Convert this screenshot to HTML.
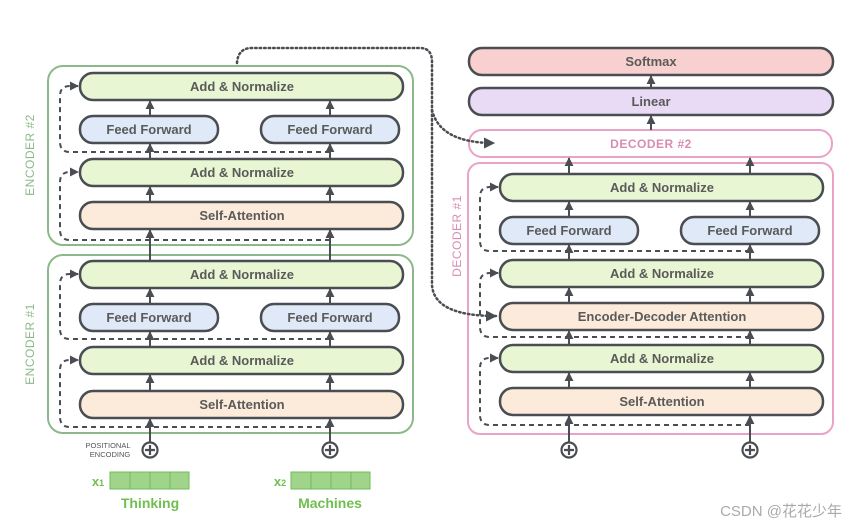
<!DOCTYPE html>
<html><head><meta charset="utf-8"><style>
html,body{margin:0;padding:0;background:#fff;}
svg{display:block;}
text{font-family:"Liberation Sans",sans-serif;}
</style></head><body>
<svg width="858" height="529" viewBox="0 0 858 529" xmlns="http://www.w3.org/2000/svg">
<defs>
<marker id="a" viewBox="0 0 10 10" refX="9" refY="5" markerWidth="4.5" markerHeight="4.5" orient="auto"><path d="M0,0 L10,5 L0,10 z" fill="#4a4d52"/></marker>
</defs>
<g font-size="13" fill="#555" text-anchor="middle">
<rect x="48" y="66" width="365" height="179" rx="15" fill="none" stroke="#8cb98a" stroke-width="2"/>
<rect x="48" y="255" width="365" height="178" rx="15" fill="none" stroke="#8cb98a" stroke-width="2"/>
<text x="34" y="155" transform="rotate(-90 34 155)" fill="#8cb98a" font-size="12" letter-spacing="0.5">ENCODER #2</text>
<text x="34" y="344" transform="rotate(-90 34 344)" fill="#8cb98a" font-size="12" letter-spacing="0.5">ENCODER #1</text>

<g stroke="#4a4d52" stroke-width="2.5">
<rect x="80" y="73" width="323" height="27" rx="13" fill="#e8f6d3"/>
<rect x="80" y="116" width="138" height="27" rx="13" fill="#dfe9f7"/>
<rect x="261" y="116" width="138" height="27" rx="13" fill="#dfe9f7"/>
<rect x="80" y="159" width="323" height="27" rx="13" fill="#e8f6d3"/>
<rect x="80" y="202" width="323" height="27" rx="13" fill="#fcebdb"/>
<rect x="80" y="261" width="323" height="27" rx="13" fill="#e8f6d3"/>
<rect x="80" y="304" width="138" height="27" rx="13" fill="#dfe9f7"/>
<rect x="261" y="304" width="138" height="27" rx="13" fill="#dfe9f7"/>
<rect x="80" y="347" width="323" height="27" rx="13" fill="#e8f6d3"/>
<rect x="80" y="391" width="323" height="27" rx="13" fill="#fcebdb"/>
</g>
<g stroke="none" font-weight="bold" fill="#5a5a5a">
<text x="242" y="91">Add &amp; Normalize</text>
<text x="149" y="134">Feed Forward</text>
<text x="330" y="134">Feed Forward</text>
<text x="242" y="177">Add &amp; Normalize</text>
<text x="242" y="220">Self-Attention</text>
<text x="242" y="279">Add &amp; Normalize</text>
<text x="149" y="322">Feed Forward</text>
<text x="330" y="322">Feed Forward</text>
<text x="242" y="365">Add &amp; Normalize</text>
<text x="242" y="409">Self-Attention</text>
</g>
<g stroke="#4a4d52" stroke-width="2" marker-end="url(#a)" fill="none">
<line x1="150" y1="116" x2="150" y2="101"/><line x1="330" y1="116" x2="330" y2="101"/>
<line x1="150" y1="159" x2="150" y2="144"/><line x1="330" y1="159" x2="330" y2="144"/>
<line x1="150" y1="202" x2="150" y2="187"/><line x1="330" y1="202" x2="330" y2="187"/>
<line x1="150" y1="261" x2="150" y2="230"/><line x1="330" y1="261" x2="330" y2="230"/>
<line x1="150" y1="304" x2="150" y2="289"/><line x1="330" y1="304" x2="330" y2="289"/>
<line x1="150" y1="347" x2="150" y2="332"/><line x1="330" y1="347" x2="330" y2="332"/>
<line x1="150" y1="391" x2="150" y2="375"/><line x1="330" y1="391" x2="330" y2="375"/>
<line x1="150" y1="442" x2="150" y2="419"/><line x1="330" y1="442" x2="330" y2="419"/>
</g>
<g stroke="#4a4d52" stroke-width="2" stroke-dasharray="5,4" fill="none" marker-end="url(#a)">
<path d="M330,152 H70 Q60,152 60,142 V96 Q60,86 70,86 H78"/>
<path d="M330,240 H70 Q60,240 60,230 V182 Q60,172 70,172 H78"/>
<path d="M330,339 H70 Q60,339 60,329 V284 Q60,274 70,274 H78"/>
<path d="M330,427 H70 Q60,427 60,417 V370 Q60,360 70,360 H78"/>
</g>
<g stroke="#4a4d52" stroke-width="2.2" fill="#fff">
<circle cx="150" cy="450" r="7.5"/><circle cx="330" cy="450" r="7.5"/>
<circle cx="569" cy="450" r="7.5"/><circle cx="750" cy="450" r="7.5"/>
<path d="M145,450H155M150,445V455M325,450H335M330,445V455M564,450H574M569,445V455M745,450H755M750,445V455"/>
</g>
<text x="108" y="448" font-size="7.5" fill="#555">POSITIONAL</text>
<text x="110" y="457" font-size="7.5" fill="#555">ENCODING</text>
<g fill="#9fd48a" stroke="#6fbb58" stroke-width="1">
<rect x="110" y="472" width="20" height="17"/><rect x="130" y="472" width="20" height="17"/><rect x="150" y="472" width="20" height="17"/><rect x="170" y="472" width="19" height="17"/>
<rect x="291" y="472" width="20" height="17"/><rect x="311" y="472" width="20" height="17"/><rect x="331" y="472" width="20" height="17"/><rect x="351" y="472" width="19" height="17"/>
</g>
<g fill="#6fbf4f" font-weight="bold">
<text x="98" y="486" font-size="13">x<tspan font-size="9">1</tspan></text>
<text x="280" y="486" font-size="13">x<tspan font-size="9">2</tspan></text>
<text x="150" y="508" font-size="14">Thinking</text>
<text x="330" y="508" font-size="14">Machines</text>
</g>

<rect x="468" y="163" width="365" height="271" rx="12" fill="none" stroke="#eaa3c8" stroke-width="2"/>
<text x="461" y="236" transform="rotate(-90 461 236)" fill="#d98cb3" font-size="12" letter-spacing="0.5">DECODER #1</text>
<rect x="469" y="130" width="363" height="27" rx="13" fill="#fff" stroke="#eaa3c8" stroke-width="2"/>
<text x="651" y="148" fill="#d98cb3" font-size="12" font-weight="bold" letter-spacing="0.5">DECODER #2</text>
<g stroke="#4a4d52" stroke-width="2.5">
<rect x="469" y="48" width="364" height="27" rx="13" fill="#f7d0cf"/>
<rect x="469" y="88" width="364" height="27" rx="13" fill="#e9dbf5"/>
<rect x="500" y="174" width="323" height="27" rx="13" fill="#e8f6d3"/>
<rect x="500" y="217" width="138" height="27" rx="13" fill="#dfe9f7"/>
<rect x="681" y="217" width="138" height="27" rx="13" fill="#dfe9f7"/>
<rect x="500" y="260" width="323" height="27" rx="13" fill="#e8f6d3"/>
<rect x="500" y="303" width="323" height="27" rx="13" fill="#fcebdb"/>
<rect x="500" y="345" width="323" height="27" rx="13" fill="#e8f6d3"/>
<rect x="500" y="388" width="323" height="27" rx="13" fill="#fcebdb"/>
</g>
<g stroke="none" font-weight="bold" fill="#5a5a5a">
<text x="651" y="66">Softmax</text>
<text x="651" y="106">Linear</text>
<text x="662" y="192">Add &amp; Normalize</text>
<text x="569" y="235">Feed Forward</text>
<text x="750" y="235">Feed Forward</text>
<text x="662" y="278">Add &amp; Normalize</text>
<text x="662" y="321">Encoder-Decoder Attention</text>
<text x="662" y="363">Add &amp; Normalize</text>
<text x="662" y="406">Self-Attention</text>
</g>
<g stroke="#4a4d52" stroke-width="2" marker-end="url(#a)" fill="none">
<line x1="651" y1="88" x2="651" y2="76"/>
<line x1="651" y1="130" x2="651" y2="116"/>
<line x1="569" y1="174" x2="569" y2="158"/><line x1="750" y1="174" x2="750" y2="158"/>
<line x1="569" y1="217" x2="569" y2="202"/><line x1="750" y1="217" x2="750" y2="202"/>
<line x1="569" y1="260" x2="569" y2="245"/><line x1="750" y1="260" x2="750" y2="245"/>
<line x1="569" y1="303" x2="569" y2="288"/><line x1="750" y1="303" x2="750" y2="288"/>
<line x1="569" y1="345" x2="569" y2="331"/><line x1="750" y1="345" x2="750" y2="331"/>
<line x1="569" y1="388" x2="569" y2="373"/><line x1="750" y1="388" x2="750" y2="373"/>
<line x1="569" y1="442" x2="569" y2="416"/><line x1="750" y1="442" x2="750" y2="416"/>
</g>
<g stroke="#4a4d52" stroke-width="2" stroke-dasharray="5,4" fill="none" marker-end="url(#a)">
<path d="M750,251 H490 Q480,251 480,241 V197 Q480,187 490,187 H498"/>
<path d="M750,337 H490 Q480,337 480,327 V283 Q480,273 490,273 H498"/>
<path d="M750,425 H490 Q480,425 480,415 V368 Q480,358 490,358 H498"/>
</g>
<g stroke="#4a4d52" stroke-width="2.5" stroke-dasharray="1.5,3" stroke-linecap="round" fill="none" marker-end="url(#a)">
<path d="M237,63 Q238,48 252,48 H420 Q432,48 432,62 V285 Q434,316 496,316"/>
<path d="M432,110 Q440,143 494,143"/>
</g>
<text x="842" y="516" text-anchor="end" font-size="15" fill="#aaa" style="font-family:'Liberation Sans','Noto Sans CJK SC',sans-serif">CSDN @花花少年</text>
</g>
</svg>
</body></html>
